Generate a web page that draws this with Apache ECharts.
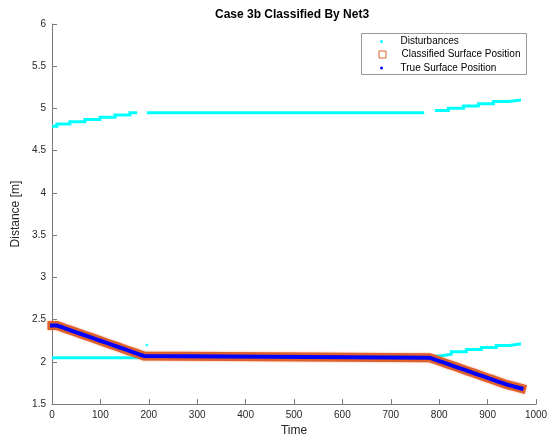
<!DOCTYPE html>
<html>
<head>
<meta charset="utf-8">
<script src="https://cdn.jsdelivr.net/npm/echarts@6/dist/echarts.min.js"></script>
<style>
html,body{margin:0;padding:0;background:#fff;}
#chart{width:554px;height:442px;}
</style>
</head>
<body>
<div id="chart"></div>
<script>
// ---- data ----
// Disturbances: step segments, value V[i] holds from T[i] to T[i+1]
const distUpperLeftT  = [0, 10, 37, 68, 99, 130, 161, 176];
const distUpperLeftV  = [4.79, 4.817, 4.843, 4.87, 4.897, 4.923, 4.95];
const distUpperMidT   = [196, 769];
const distUpperMidV   = [4.95];
const distUpperRightT = [791, 819, 850, 881, 912, 943, 969];
const distUpperRightV = [4.977, 5.003, 5.03, 5.057, 5.083, 5.10];
const distLowerLeftT  = [0, 190];
const distLowerLeftV  = [2.05];
const distLowerRightT = [792, 802, 825, 856, 887, 918, 946, 969];
const distLowerRightV = [2.07, 2.09, 2.12, 2.145, 2.17, 2.195, 2.215];
const distDotT = [196];
const distDotV = [2.2];

// True surface position: value V[i] holds from T[i] to T[i+1]
const trueT = [0,10,20,30,40,50,60,70,80,90,100,110,120,130,140,150,160,170,180,190,
               780,790,800,810,820,830,840,850,860,870,880,890,900,910,920,930,940,950,960,970];
const trueV = [2.43,2.41,2.39,2.37,2.35,2.33,2.31,2.29,2.27,2.25,2.23,2.21,2.19,2.17,2.15,2.13,2.11,2.09,2.07,2.05,
               2.03,2.01,1.99,1.97,1.95,1.93,1.91,1.89,1.87,1.85,1.83,1.81,1.79,1.77,1.75,1.73,1.715,1.70,1.685];
// Classified surface position coincides with the true surface
const classT = trueT;
const classV = trueV;

const xTicks = {min: 0, max: 1000, interval: 100};
const yTicks = {min: 1.5, max: 6, interval: 0.5};

// ---- helpers ----
// staircase: each value drawn as a horizontal run from T[i] to T[i+1]
function stepPts(T, V) {
  const pts = [];
  for (let i = 0; i < V.length; i++) {
    pts.push([T[i], V[i]]);
    pts.push([T[i + 1], V[i]]);
  }
  return pts;
}
function pairPts(T, V) { return T.map((t, i) => [t, V[i]]); }

const FONT = 'Liberation Sans, Arial, Helvetica, sans-serif';
const CYAN = '#00FFFF', ORANGE = '#E0602B', BLUE = '#0000FF';
const AX = '#7a7a7a', TXT = '#262626';
const DOT = 'path://M5,0A5,5,0,1,1,5,10A5,5,0,1,1,5,0Z';
const SQ = 'path://M0,0L10,0L10,10L0,10Z';

function distLine(T, V) {
  return {name: 'Disturbances', type: 'line', data: stepPts(T, V),
    showSymbol: false, symbol: 'none', silent: true,
    lineStyle: {color: CYAN, width: 3, join: 'miter'}, itemStyle: {color: CYAN}, z: 2};
}

const legendText = {fontFamily: FONT, fontSize: 10, color: '#000', lineHeight: 13};

const chart = echarts.init(document.getElementById('chart'), null, {renderer: 'canvas'});
chart.setOption({
  animation: false,
  textStyle: {fontFamily: FONT},
  title: {text: 'Case 3b Classified By Net3', left: 215, top: 9, padding: 0,
    textStyle: {fontFamily: FONT, fontSize: 12, fontWeight: 'bold', color: '#000'}},
  grid: {left: 52, right: 18, top: 24, bottom: 36},
  xAxis: {type: 'value', min: xTicks.min, max: xTicks.max, interval: xTicks.interval,
    name: 'Time', nameLocation: 'middle', nameGap: 20,
    nameTextStyle: {fontFamily: FONT, fontSize: 12, color: TXT},
    axisLine: {show: true, onZero: false, lineStyle: {color: AX, width: 1}},
    axisTick: {show: true, inside: true, length: 5, lineStyle: {color: AX}},
    axisLabel: {fontFamily: FONT, fontSize: 10, color: TXT, margin: 6, formatter: v => String(v)},
    splitLine: {show: false}},
  yAxis: {type: 'value', min: yTicks.min, max: yTicks.max, interval: yTicks.interval,
    name: 'Distance [m]', nameLocation: 'middle', nameGap: 25,
    nameTextStyle: {fontFamily: FONT, fontSize: 12, color: TXT},
    axisLine: {show: true, onZero: false, lineStyle: {color: AX, width: 1}},
    axisTick: {show: true, inside: true, length: 5, lineStyle: {color: AX}},
    axisLabel: {fontFamily: FONT, fontSize: 10, color: TXT, margin: 6, formatter: v => String(v)},
    splitLine: {show: false}},
  graphic: [{type: 'rect', z: 1, shape: {x: 361.5, y: 33.5, width: 165, height: 41},
    style: {fill: '#fff', stroke: '#9a9a9a', lineWidth: 1}}],
  legend: [
    {left: 380, top: 35, padding: 0, itemWidth: 28, itemHeight: 3, selectedMode: false, z: 5,
      textStyle: legendText,
      data: [{name: 'Disturbances', icon: DOT, itemStyle: {color: CYAN}}]},
    {left: 378.5, top: 48, padding: 0, itemWidth: 28, itemHeight: 7, selectedMode: false, z: 5,
      textStyle: legendText,
      data: [{name: 'Classified Surface Position', icon: SQ,
        itemStyle: {color: 'rgba(0,0,0,0)', borderColor: ORANGE, borderWidth: 1}}]},
    {left: 380, top: 61.5, padding: 0, itemWidth: 28, itemHeight: 3, selectedMode: false, z: 5,
      textStyle: legendText,
      data: [{name: 'True Surface Position', icon: DOT, itemStyle: {color: BLUE}}]}
  ],
  series: [
    distLine(distUpperLeftT, distUpperLeftV),
    distLine(distUpperMidT, distUpperMidV),
    distLine(distUpperRightT, distUpperRightV),
    distLine(distLowerLeftT, distLowerLeftV),
    distLine(distLowerRightT, distLowerRightV),
    {name: 'Disturbances', type: 'scatter', data: pairPts(distDotT, distDotV),
      symbol: 'circle', symbolSize: 3, silent: true, itemStyle: {color: CYAN}, z: 2},
    {name: 'Classified Surface Position', type: 'line', data: stepPts(classT, classV),
      showSymbol: false, symbol: 'none', silent: true, clip: false,
      lineStyle: {color: ORANGE, width: 9, join: 'miter', cap: 'square',
        shadowBlur: 2, shadowColor: 'rgba(235,120,70,0.7)'},
      itemStyle: {color: ORANGE}, z: 3},
    {name: 'True Surface Position', type: 'line', data: stepPts(trueT, trueV),
      showSymbol: false, symbol: 'none', silent: true, clip: false,
      lineStyle: {color: BLUE, width: 4, join: 'miter', cap: 'square'}, itemStyle: {color: BLUE}, z: 4}
  ]
});
</script>
</body>
</html>
